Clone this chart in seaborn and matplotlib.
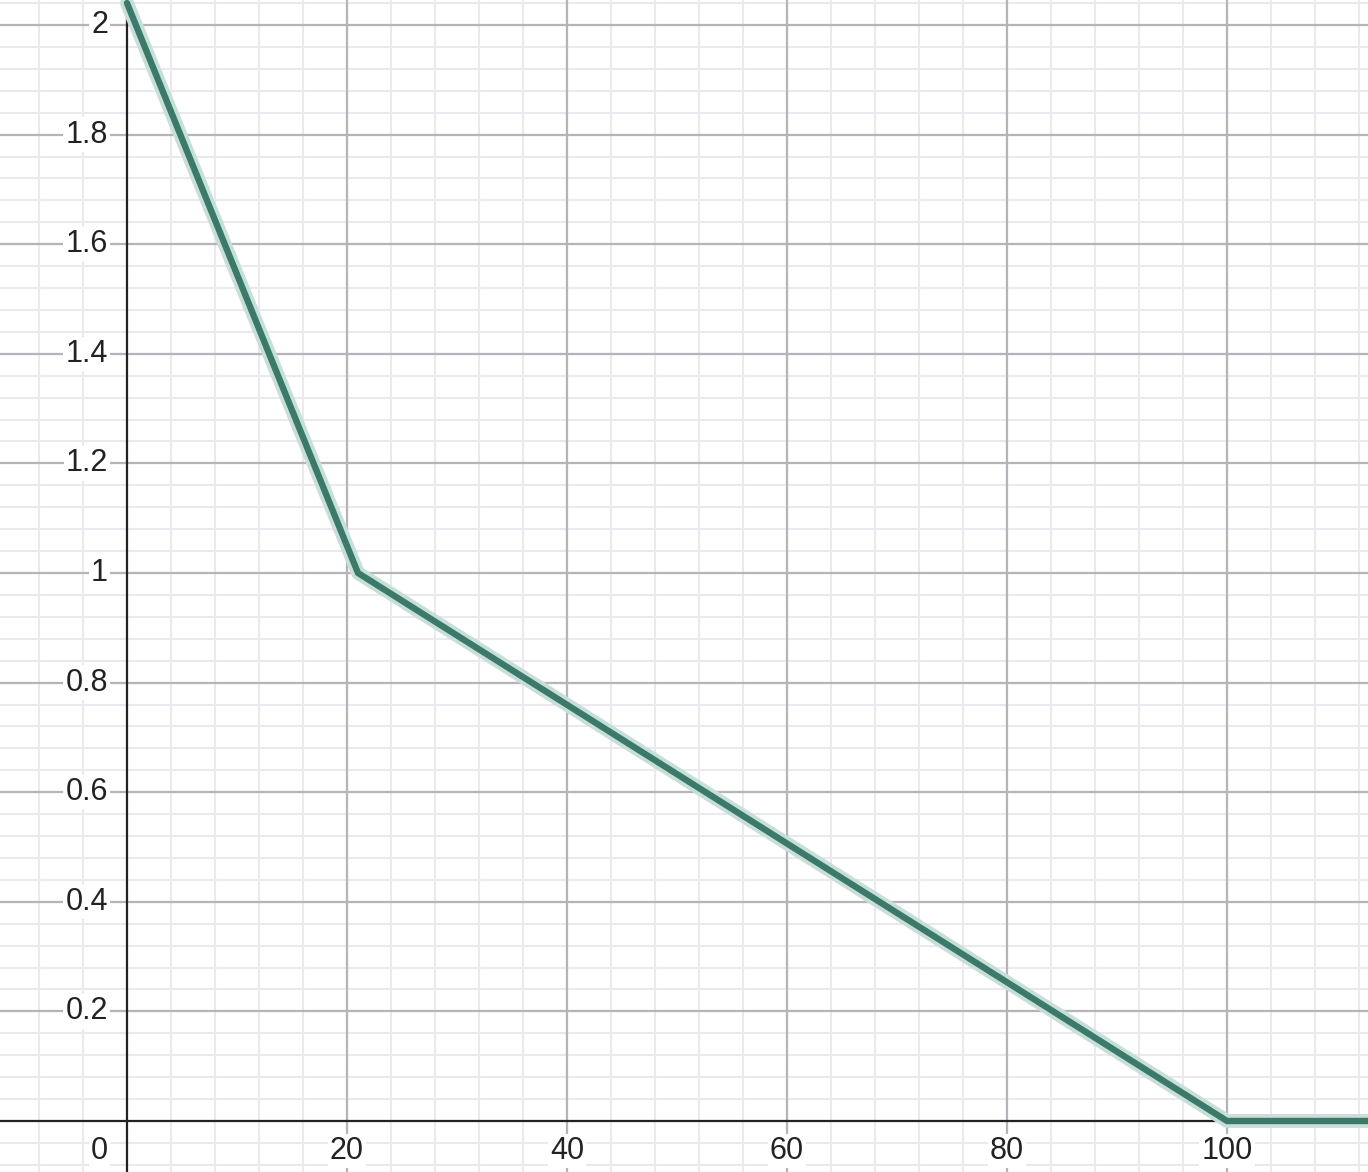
import matplotlib
matplotlib.use("Agg")
import matplotlib.pyplot as plt
import matplotlib.transforms as mtransforms
import seaborn as sns
import numpy as np
import pandas as pd

# piecewise line
x_vals = [0, 21, 100, 115]
y_vals = [2.04, 1.0, 0.0, 0.0]

x_major = [20, 40, 60, 80, 100]
y_major = [0.2, 0.4, 0.6, 0.8, 1.0, 1.2, 1.4, 1.6, 1.8, 2.0]
y_labels = ["0.2", "0.4", "0.6", "0.8", "1", "1.2", "1.4", "1.6", "1.8", "2"]

sns.set_style("white")
plt.rcParams['font.family'] = ['Liberation Sans', 'DejaVu Sans']

fig = plt.figure(figsize=(13.68, 11.72), dpi=100)
ax = fig.add_axes([0, 0, 1, 1])
ax.set_xlim(-11.545, 112.82)
ax.set_ylim(-0.0931, 2.0456)

# grid
for xm in np.arange(-8, 116, 4):
    ax.axvline(xm, color="#e9e9ee", lw=1.5, zorder=0)
for ym in np.arange(-0.08, 2.06, 0.04):
    ax.axhline(ym, color="#e9e9ee", lw=1.5, zorder=0)
for xm in x_major:
    ax.axvline(xm, color="#b4b4ba", lw=1.6, zorder=1)
for ym in y_major:
    ax.axhline(ym, color="#b4b4ba", lw=1.6, zorder=1)
ax.axhline(0, color="#222222", lw=1.6, zorder=2)
ax.axvline(0, color="#222222", lw=1.6, zorder=2)

df = pd.DataFrame({"x": x_vals, "y": y_vals})
sns.lineplot(data=df, x="x", y="y", ax=ax, color="#c8dfd9", lw=10,
             solid_joinstyle="round", solid_capstyle="round", zorder=3, sort=False)
sns.lineplot(data=df, x="x", y="y", ax=ax, color="#3b7a6b", lw=4.6,
             solid_joinstyle="miter", zorder=4, sort=False)

box = dict(facecolor="white", edgecolor="none", pad=1.5)
ylab_tr = mtransforms.offset_copy(ax.transData, fig=fig, x=-19, y=0, units="dots")
for ym, lab in zip(y_major, y_labels):
    ax.text(0, ym, lab, transform=ylab_tr, ha="right", va="center",
            fontsize=22, color="#222222", bbox=box, zorder=5)
ax.text(0, 0, "0", transform=mtransforms.offset_copy(ax.transData, fig=fig, x=-19, y=-30, units="dots"),
        ha="right", va="center", fontsize=22, color="#222222", bbox=box, zorder=5)
xlab_tr = mtransforms.offset_copy(ax.transData, fig=fig, x=0, y=-30, units="dots")
for xm in x_major:
    ax.text(xm, 0, str(xm), transform=xlab_tr, ha="center", va="center",
            fontsize=22, color="#222222", bbox=box, zorder=5)

ax.set_xlabel("")
ax.set_ylabel("")
ax.set_xticks([])
ax.set_yticks([])
for s in ax.spines.values():
    s.set_visible(False)

fig.savefig("out.png", dpi=100)
